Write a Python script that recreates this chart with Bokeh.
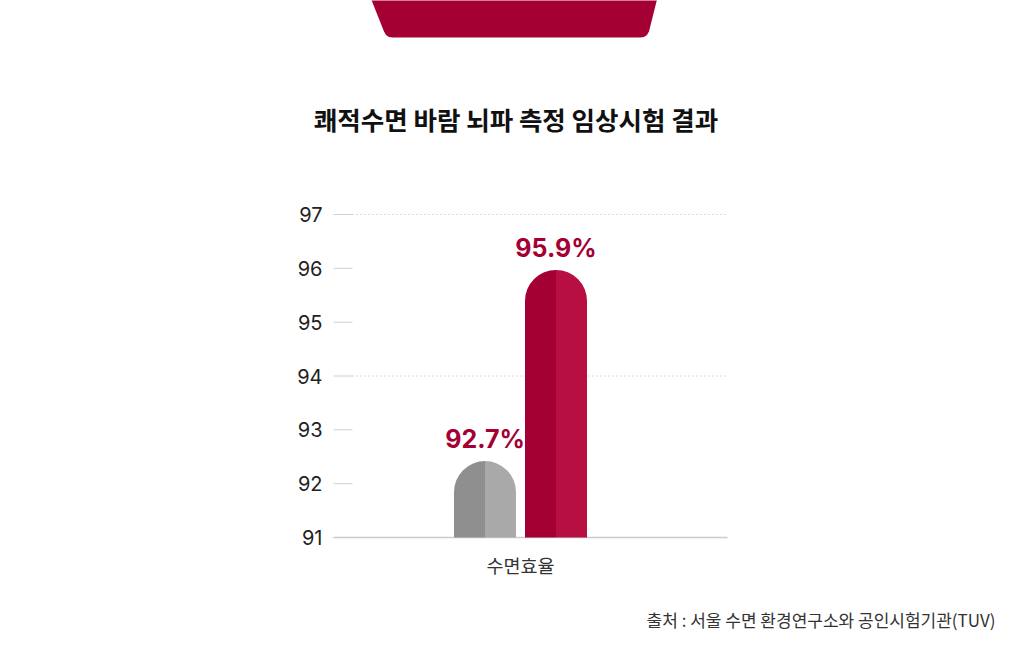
import math
from bokeh.plotting import figure
from bokeh.models import Range1d, FixedTicker
from bokeh.core.properties import value
from bokeh.embed import file_html
from bokeh.resources import INLINE

# ---- data ----
title_text = "쾌적수면 바람 뇌파 측정 임상시험 결과"
source_text = "출처 : 서울 수면 환경연구소와 공인시험기관(TUV)"
categories = ["수면효율"]
bar_heights = [92.42, 95.97]          # drawn bar tops
value_labels = ["92.7%", "95.9%"]
y_ticks = [91, 92, 93, 94, 95, 96, 97]
grid_ticks = [94, 97]
dark_colors = ["#8f8f8f", "#a50034"]
light_colors = ["#a9a9a9", "#b80f42"]

FONT = "Inter, 'Noto Sans CJK KR', sans-serif"
KFONT = "'Noto Sans CJK KR', sans-serif"
RED = "#a50034"

# ---- layout constants (page pixels) ----
W, H = 1024, 651
FRAME_L = 300                 # frame spans FRAME_L..W horizontally, 0..H vertically
BASE_Y, TOP_TICK_Y = 537, 214 # pixel rows of 91 and 97
CAT_X = 520                   # pixel column of the category centre
PX_PER_CAT = 394
px_y = (BASE_Y - TOP_TICK_Y) / (y_ticks[-1] - y_ticks[0])
Y_START = y_ticks[0] - (H - BASE_Y) / px_y
Y_END = y_ticks[0] + BASE_Y / px_y
X_START = -(CAT_X - FRAME_L) / PX_PER_CAT
X_END = (W - CAT_X) / PX_PER_CAT


def px2x(px):
    return (px - CAT_X) / PX_PER_CAT


def px2y(py):
    return y_ticks[0] + (BASE_Y - py) / px_y


p = figure(width=W, height=H,
           x_range=Range1d(X_START, X_END), y_range=Range1d(Y_START, Y_END),
           output_backend="svg", toolbar_location=None,
           min_border_left=FRAME_L, min_border_right=0,
           min_border_top=0, min_border_bottom=0)
p.outline_line_color = None
p.background_fill_color = "white"
p.border_fill_color = "white"
p.grid.visible = False
p.xaxis.visible = False

ya = p.yaxis[0]
ya.ticker = FixedTicker(ticks=y_ticks)
ya.axis_line_color = None
ya.major_tick_in = 0
ya.major_tick_out = 0
ya.major_tick_line_color = None
ya.minor_tick_line_color = None
ya.major_label_standoff = -22
ya.major_label_text_font = FONT
ya.major_label_text_font_size = "20px"
ya.major_label_text_color = "#222222"

# tick marks, dotted grid lines and baseline
p.segment(x0=[px2x(333)] * len(y_ticks), x1=[px2x(352)] * len(y_ticks),
          y0=y_ticks, y1=y_ticks, line_color="#d0d0d0", line_width=1)
p.segment(x0=[px2x(352)] * len(grid_ticks), x1=[px2x(727)] * len(grid_ticks),
          y0=grid_ticks, y1=grid_ticks, line_color="#b8b8b8", line_width=1,
          line_dash="1 3")
p.segment(x0=[px2x(333)], x1=[px2x(727)], y0=[y_ticks[0]], y1=[y_ticks[0]],
          line_color="#cccccc", line_width=1.5)

# ---- bars with rounded tops ----
bar_w = 62 / PX_PER_CAT
off = (62 + 9) / 2 / PX_PER_CAT
r_px = 31
r_y = r_px / px_y
centers = [0 - off, 0 + off]
body_tops = [h - r_y + 0.6 / px_y for h in bar_heights]
arc_y = [h - r_y for h in bar_heights]

p.vbar(x=[c - bar_w / 4 for c in centers], width=bar_w / 2, bottom=y_ticks[0], top=body_tops,
       fill_color=dark_colors, line_color=None)
p.vbar(x=[c + bar_w / 4 for c in centers], width=bar_w / 2, bottom=y_ticks[0], top=body_tops,
       fill_color=light_colors, line_color=None)
p.wedge(x=centers, y=arc_y, radius=r_px, radius_units="screen",
        start_angle=math.pi / 2, end_angle=math.pi,
        fill_color=dark_colors, line_color=None)
p.wedge(x=centers, y=arc_y, radius=r_px, radius_units="screen",
        start_angle=0, end_angle=math.pi / 2,
        fill_color=light_colors, line_color=None)

p.text(x=centers, y=bar_heights, text=value_labels,
       text_align="center", text_baseline="middle", y_offset=-22,
       text_font=value(FONT), text_font_size="25px", text_font_style="bold",
       text_color=RED)

# category label under the baseline
p.text(x=list(range(len(categories))), y=[y_ticks[0]] * len(categories), text=categories,
       text_align="center", text_baseline="middle", y_offset=27,
       text_font=value(KFONT), text_font_size="18.5px", text_color="#333333")

# ---- header: tab shape + title ----
tab_px = [370, 383.5, 385.5, 388.5, 392, 640, 643.5, 646.5, 648.5, 657]
tab_py = [-3, 31, 34.5, 36.5, 37, 37, 36.5, 34.5, 31, -3]
p.patch(x=[px2x(v) for v in tab_px], y=[px2y(v) for v in tab_py],
        fill_color=RED, line_color=None)
p.text(x=[px2x(515.5)], y=[px2y(118)], text=[title_text],
       text_align="center", text_baseline="middle",
       text_font=value(KFONT), text_font_size="25.5px", text_font_style="bold",
       text_color="#111111")

# ---- footer: source ----
p.text(x=[px2x(995)], y=[px2y(619)], text=[source_text],
       text_align="right", text_baseline="middle",
       text_font=value(KFONT), text_font_size="17px", text_color="#333333")

open("out.html", "w").write(file_html(p, INLINE))
